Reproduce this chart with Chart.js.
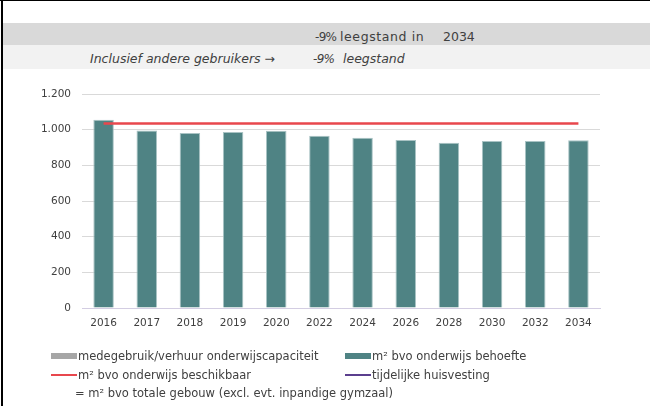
<!DOCTYPE html>
<html lang="nl">
<head>
<meta charset="utf-8">
<script src="https://cdn.jsdelivr.net/npm/chart.js@4/dist/chart.umd.min.js"></script>
<style>
  html, body { margin: 0; padding: 0; background: #fff; }
  body { width: 650px; height: 406px; position: relative; overflow: hidden;
         font-family: "DejaVu Sans", sans-serif; color: #404040; }
  #chart { position: absolute; left: 0; top: 0; }
  .frame-top { position: absolute; left: 0; top: 0; width: 650px; height: 1px; background: #000; }
  .frame-left { position: absolute; left: 1px; top: 0; width: 2px; height: 406px; background: #000; }
  .band { position: absolute; left: 3px; width: 647px; }
  .band1 { top: 23px; height: 22px; background: #d9d9d9; }
  .band2 { top: 45px; height: 24px; background: #f2f2f2; }
  .txt { position: absolute; font-size: 12.5px; line-height: 14px; white-space: nowrap; }
  .it { font-style: italic; }
  .pct { font-size: 12px; letter-spacing: -0.7px; }
  .wide { letter-spacing: 0.6px; }
  .legend-item { position: absolute; font-size: 11.5px; line-height: 14px; white-space: nowrap; }
  .sw { position: absolute; }
</style>
</head>
<body>
<div class="band band1"></div>
<div class="band band2"></div>
<div class="frame-top"></div>
<div class="frame-left"></div>

<!-- summary rows above the chart -->
<div class="txt pct" style="left:315px; top:30px;">-9%</div>
<div class="txt wide" style="left:340px; top:30px;">leegstand in</div>
<div class="txt" style="left:443px; top:30px;">2034</div>
<div class="txt it" style="left:90px; top:52px;">Inclusief andere gebruikers →</div>
<div class="txt it pct" style="left:313px; top:52px;">-9%</div>
<div class="txt it" style="left:343px; top:52px;">leegstand</div>

<canvas id="chart" width="650" height="406"></canvas>
<div id="legend"></div>

<script>
// years on the x axis
const years = ['2016', '2017', '2018', '2019', '2020', '2022', '2024', '2026', '2028', '2030', '2032', '2034'];

// m2 bvo per year
const behoefte = [1056, 996, 981, 987, 994, 966, 955, 942, 927, 936, 936, 941];
const medegebruik = [0, 0, 0, 0, 0, 0, 0, 0, 0, 0, 0, 0];
const beschikbaar = [1035, 1035, 1035, 1035, 1035, 1035, 1035, 1035, 1035, 1035, 1035, 1035];
const tijdelijk = [null, null, null, null, null, null, null, null, null, null, null, null];

// y axis ticks
const yTicks = [0, 200, 400, 600, 800, 1000, 1200];

const TEAL = '#4f8384';
const GREY = '#a6a6a6';
const RED = '#e8474d';
const PURPLE = '#5b3f8e';

function nlNumber(v) {
    return String(v).replace(/\B(?=(\d{3})+(?!\d))/g, '.');
}

const ctx = document.getElementById('chart').getContext('2d');
const chart = new Chart(ctx, {
    type: 'bar',
    data: {
        labels: years,
        datasets: [
            {
                label: 'm² bvo onderwijs behoefte',
                data: behoefte,
                backgroundColor: TEAL,
                borderColor: '#a9c3c4',
                borderWidth: { left: 1, right: 1, top: 1, bottom: 0 },
                borderSkipped: false,
                barPercentage: 0.95,
                categoryPercentage: 0.5,
                stack: 'bars',
                order: 2
            },
            {
                label: 'medegebruik/verhuur onderwijscapaciteit',
                data: medegebruik,
                backgroundColor: GREY,
                borderWidth: 0,
                barPercentage: 0.95,
                categoryPercentage: 0.5,
                stack: 'bars',
                order: 2
            },
            {
                type: 'line',
                label: 'm² bvo onderwijs beschikbaar',
                data: beschikbaar,
                borderColor: RED,
                backgroundColor: RED,
                borderWidth: 2.5,
                pointRadius: 0,
                tension: 0,
                stack: 'beschikbaar',
                order: 1
            },
            {
                type: 'line',
                label: 'tijdelijke huisvesting',
                data: tijdelijk,
                borderColor: PURPLE,
                backgroundColor: PURPLE,
                borderWidth: 2,
                pointRadius: 0,
                stack: 'tijdelijk',
                order: 0
            }
        ]
    },
    options: {
        responsive: false,
        animation: false,
        layout: { padding: { left: 0, right: 50, top: 94, bottom: 0 } },
        plugins: {
            legend: { display: false },
            tooltip: { enabled: false }
        },
        scales: {
            x: {
                stacked: true,
                grid: { display: false, drawTicks: false },
                border: { display: true, color: '#d3cde2', width: 1 },
                ticks: {
                    color: '#404040',
                    padding: 9,
                    font: { family: 'DejaVu Sans', size: 10.5 }
                },
                afterFit: function(scale) { scale.height = 98; }
            },
            y: {
                stacked: true,
                min: 0,
                max: 1200,
                afterBuildTicks: function(scale) {
                    scale.ticks = yTicks.map(v => ({ value: v }));
                },
                grid: { color: '#d9d9d9', lineWidth: 1, drawTicks: false },
                border: { display: false },
                ticks: {
                    color: '#404040',
                    padding: 11,
                    font: { family: 'DejaVu Sans', size: 10.5 },
                    callback: v => nlNumber(v)
                },
                afterFit: function(scale) { scale.width = 82; }
            }
        }
    }
});

// legend below the chart, two columns plus a note line
const legendEl = document.getElementById('legend');
const legendItems = [
    { ds: 1, x: 51, y: 349, kind: 'box' },
    { ds: 0, x: 345, y: 349, kind: 'box' },
    { ds: 2, x: 51, y: 368, kind: 'line' },
    { ds: 3, x: 345, y: 368, kind: 'line' }
];
legendItems.forEach(function(item) {
    const ds = chart.data.datasets[item.ds];
    const color = item.kind === 'box' ? ds.backgroundColor : ds.borderColor;
    const sw = document.createElement('div');
    sw.className = 'sw';
    sw.style.left = item.x + 'px';
    sw.style.width = '26px';
    sw.style.background = color;
    if (item.kind === 'box') {
        sw.style.top = (item.y + 4) + 'px';
        sw.style.height = '6px';
    } else {
        sw.style.top = (item.y + 6) + 'px';
        sw.style.height = '2px';
    }
    legendEl.appendChild(sw);
    const lab = document.createElement('div');
    lab.className = 'legend-item';
    lab.style.left = (item.x + 27) + 'px';
    lab.style.top = item.y + 'px';
    lab.textContent = ds.label;
    legendEl.appendChild(lab);
});
const note = document.createElement('div');
note.className = 'legend-item';
note.style.left = '75px';
note.style.top = '386px';
note.textContent = '= m² bvo totale gebouw (excl. evt. inpandige gymzaal)';
legendEl.appendChild(note);
</script>
</body>
</html>
